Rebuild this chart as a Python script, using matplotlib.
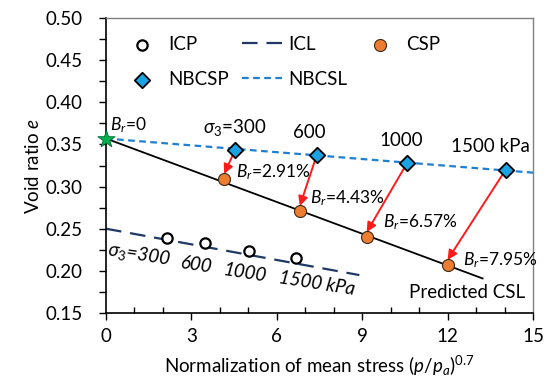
import matplotlib
matplotlib.use("Agg")
import matplotlib.pyplot as plt
import numpy as np
from matplotlib.ticker import MultipleLocator

plt.rcParams['font.family'] = ['Lato', 'DejaVu Sans']
plt.rcParams['mathtext.fontset'] = 'custom'
plt.rcParams['mathtext.rm'] = 'Lato'
plt.rcParams['mathtext.it'] = 'Lato:italic'

# Data
icp_x = [2.16, 3.48, 5.02, 6.67]
icp_y = [0.239, 0.233, 0.223, 0.215]
icl_x = [0.0, 8.9]
icl_y = [0.250, 0.195]
csp_x = [4.15, 6.81, 9.16, 12.0]
csp_y = [0.309, 0.271, 0.240, 0.207]
nbcsp_x = [4.53, 7.40, 10.58, 14.04]
nbcsp_y = [0.343, 0.337, 0.328, 0.320]
nbcsl_x = [0.0, 15.0]
nbcsl_y = [0.357, 0.3165]
csl_x = [0.0, 13.23]
csl_y = [0.357, 0.191]
star_x = [0.0]
star_y = [0.357]
br_labels = ['$B_r$=2.91%', '$B_r$=4.43%', '$B_r$=6.57%', '$B_r$=7.95%']
sigma_labels = ['$\\sigma_3$=300', '600', '1000', '1500 kPa']

fig = plt.figure(figsize=(5.48, 3.80), dpi=100)
ax = fig.add_axes([0.1934, 0.1763, 0.7792, 0.7763])

fs = 13.5
ax.plot(csl_x, csl_y, color='black', lw=1.3, zorder=2)
ax.plot(nbcsl_x, nbcsl_y, color='#1F7FD0', lw=1.6, ls=(0, (3, 2)), zorder=2, label='NBCSL')
ax.plot(icl_x, icl_y, color='#1F3864', lw=1.6, ls=(0, (7, 4)), zorder=2, label='ICL')

for x0, y0, x1, y1 in zip(nbcsp_x, nbcsp_y, csp_x, csp_y):
    ax.annotate('', xy=(x1, y1 + 0.006), xytext=(x0, y0),
                arrowprops=dict(arrowstyle='-|>', color='#FF1A1A', lw=1.4,
                                mutation_scale=14, shrinkA=0, shrinkB=0), zorder=3)

ax.scatter(icp_x, icp_y, s=55, facecolor='white', edgecolor='black', lw=1.6, zorder=4, label='ICP')
ax.scatter(csp_x, csp_y, s=75, facecolor='#ED7D31', edgecolor='#3a2a1a', lw=0.8, zorder=4, label='CSP')
ax.scatter(nbcsp_x, nbcsp_y, s=62, marker='D', facecolor='#1AA3E3', edgecolor='black', lw=1.3, zorder=4, label='NBCSP')
ax.scatter(star_x, star_y, s=170, marker='*', facecolor='#00B050', edgecolor='#006B2E', lw=0.6, zorder=5, clip_on=False)

# legend
h, l = ax.get_legend_handles_labels()
d = dict(zip(l, h))
order = ['ICP', 'NBCSP', 'ICL', 'NBCSL']
leg_kw = dict(frameon=False, fontsize=fs, handlelength=2.2, handletextpad=0.3,
              labelspacing=0.95, borderpad=0, borderaxespad=0, loc='upper left')
leg1 = ax.legend([d[k] for k in order], order, ncol=2, columnspacing=0.7,
                 bbox_to_anchor=(0.035, 0.94), **leg_kw)
ax.add_artist(leg1)
ax.legend([d['CSP']], ['CSP'], bbox_to_anchor=(0.593, 0.94), **leg_kw)

# annotations
ax.text(0.14, 0.373, '$B_r$=0', fontsize=12.5, ha='left', va='center')
sig_pos = [(4.53, 0.370), (7.13, 0.364), (10.38, 0.355), (13.49, 0.347)]
for (x, y), t in zip(sig_pos, sigma_labels):
    ax.text(x, y, t, fontsize=fs, ha='center', va='center')
br_pos = [(4.57, 0.317), (7.17, 0.286), (9.72, 0.258), (12.53, 0.213)]
for (x, y), t in zip(br_pos, br_labels):
    ax.text(x, y, t, fontsize=12.5, ha='left', va='center')
ax.text(12.68, 0.174, 'Predicted CSL', fontsize=fs, ha='center', va='center')
icp_lab = [(1.16, 0.219), (3.18, 0.207), (4.88, 0.197), (7.4, 0.185)]
icp_txt = ['$\\sigma_3$=300', '600', '1000', '1500 kPa']
for (x, y), t in zip(icp_lab, icp_txt):
    ax.text(x, y, t, fontsize=fs, ha='center', va='center', rotation=-9, style='italic')

ax.set_xlim(0, 15)
ax.set_ylim(0.15, 0.50)
ax.xaxis.set_major_locator(MultipleLocator(3))
ax.xaxis.set_minor_locator(MultipleLocator(1))
ax.yaxis.set_major_locator(MultipleLocator(0.05))
ax.yaxis.set_minor_locator(MultipleLocator(0.025))
ax.yaxis.set_major_formatter(matplotlib.ticker.FormatStrFormatter('%.2f'))
ax.tick_params(axis='x', which='major', direction='out', length=5, width=1, labelsize=fs, pad=6)
ax.tick_params(axis='x', which='minor', direction='in', length=4, width=1)
ax.tick_params(axis='y', which='both', direction='out', length=5, width=1, labelsize=fs, pad=12)
for s in ['left', 'bottom']:
    ax.spines[s].set_linewidth(1.2)
for s in ['top', 'right']:
    ax.spines[s].set_color('#808080')
    ax.spines[s].set_linewidth(1.0)

ax.set_xlabel('Normalization of mean stress ($p$/$p_a$)$^{0.7}$', fontsize=fs, labelpad=6)
ax.set_ylabel('Void ratio $e$', fontsize=fs, labelpad=2)

fig.savefig('out.png', dpi=100)
